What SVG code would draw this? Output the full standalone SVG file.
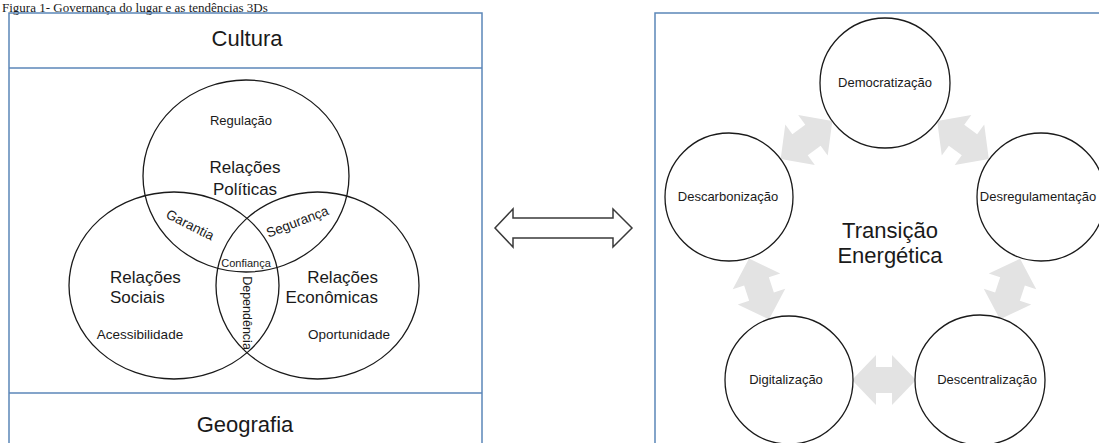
<svg xmlns="http://www.w3.org/2000/svg" xmlns:xlink="http://www.w3.org/1999/xlink" width="1099" height="443" viewBox="0 0 1099 443">
  <style>
    .frame { fill: none; stroke: #5b86b8; stroke-width: 1.5; }
    .venn { fill: none; stroke: #1a1a1a; stroke-width: 1.3; }
    .node { fill: #ffffff; stroke: #1a1a1a; stroke-width: 1.3; }
    .t { font-family: "Liberation Sans", Arial, sans-serif; fill: #1a1a1a; }
    .c { text-anchor: middle; }
    .gray { fill: #e3e3e3; stroke: none; }
    .bigarrow { fill: #ffffff; stroke: #3a3a3a; stroke-width: 1.5; stroke-linejoin: miter; }
  </style>
  <defs>
    <path id="dbl" d="M-32,0 L-8,-25 L-8,-13 L8,-13 L8,-25 L32,0 L8,25 L8,13 L-8,13 L-8,25 Z"/>
  </defs>
  <rect width="1099" height="443" fill="#ffffff"/>

  <text x="2" y="11.8" font-family="Liberation Serif, Times New Roman, serif" font-size="13" fill="#1a1a1a">Figura 1- Governança do lugar e as tendências 3Ds</text>

  <!-- Left panel -->
  <g id="left-panel">
    <rect class="frame" x="9" y="13" width="473" height="460"/>
    <line class="frame" x1="9" y1="68" x2="482" y2="68"/>
    <line class="frame" x1="9" y1="393" x2="482" y2="393"/>
  </g>
  <g id="cultura"><text class="t c" x="247" y="46" font-size="22">Cultura</text></g>
  <g id="geografia"><text class="t c" x="245" y="432" font-size="22">Geografia</text></g>

  <g id="relacoes-politicas">
    <ellipse class="venn" cx="246" cy="176" rx="103" ry="96"/>
    <text class="t c" x="241" y="125" font-size="13">Regulação</text>
    <text class="t c" x="245" y="173" font-size="17">Relações</text>
    <text class="t c" x="245" y="195" font-size="17">Políticas</text>
  </g>
  <g id="relacoes-sociais">
    <ellipse class="venn" cx="174" cy="285.5" rx="105" ry="93.5"/>
    <text class="t" x="110" y="283" font-size="17">Relações</text>
    <text class="t" x="110" y="303" font-size="17">Sociais</text>
    <text class="t c" x="140" y="339" font-size="13.5">Acessibilidade</text>
  </g>
  <g id="relacoes-economicas">
    <ellipse class="venn" cx="317.5" cy="285.5" rx="101.5" ry="93.5"/>
    <text class="t" x="378" y="283" font-size="17" text-anchor="end">Relações</text>
    <text class="t" x="378" y="303" font-size="17" text-anchor="end">Econômicas</text>
    <text class="t c" x="349" y="339" font-size="13.5">Oportunidade</text>
  </g>
  <g id="intersecoes">
    <text class="t c" font-size="13.5" transform="translate(188,229) rotate(27)">Garantia</text>
    <text class="t c" font-size="13.5" transform="translate(299,226) rotate(-21)">Segurança</text>
    <text class="t c" x="246" y="267" font-size="11">Confiança</text>
    <text class="t c" font-size="12.5" transform="translate(243,313) rotate(90)">Dependência</text>
  </g>

  <!-- Connectors -->
  <g id="connectors">
    <path class="bigarrow" d="M495,228 L513,209 L513,218 L613,218 L613,209 L632,228 L613,247 L613,238 L513,238 L513,247 Z"/>
    <use xlink:href="#dbl" class="gray" transform="translate(806.5,140) rotate(-36.2)"/>
    <use xlink:href="#dbl" class="gray" transform="translate(963,140) rotate(36.2)"/>
    <use xlink:href="#dbl" class="gray" transform="translate(1010,289) rotate(108.4)"/>
    <use xlink:href="#dbl" class="gray" transform="translate(884,380) rotate(0)"/>
    <use xlink:href="#dbl" class="gray" transform="translate(759,289) rotate(71.8)"/>
  </g>

  <!-- Right panel -->
  <g id="right-panel">
    <rect class="frame" x="655" y="13" width="500" height="460"/>
  </g>
  <g id="transicao">
    <text class="t c" x="890" y="238" font-size="22">Transição</text>
    <text class="t c" x="890" y="263" font-size="22">Energética</text>
  </g>
  <g id="democratizacao">
    <circle class="node" cx="885" cy="83" r="65"/>
    <text class="t c" x="885" y="87" font-size="13">Democratização</text>
  </g>
  <g id="descarbonizacao">
    <circle class="node" cx="729" cy="197" r="64"/>
    <text class="t c" x="728" y="201" font-size="13">Descarbonização</text>
  </g>
  <g id="desregulamentacao">
    <circle class="node" cx="1041" cy="197" r="64"/>
    <text class="t c" x="1038" y="201" font-size="13">Desregulamentação</text>
  </g>
  <g id="digitalizacao">
    <circle class="node" cx="789" cy="380" r="64"/>
    <text class="t c" x="786" y="384" font-size="13">Digitalização</text>
  </g>
  <g id="descentralizacao">
    <circle class="node" cx="980" cy="380" r="65"/>
    <text class="t c" x="987" y="384" font-size="13">Descentralização</text>
  </g>
</svg>
